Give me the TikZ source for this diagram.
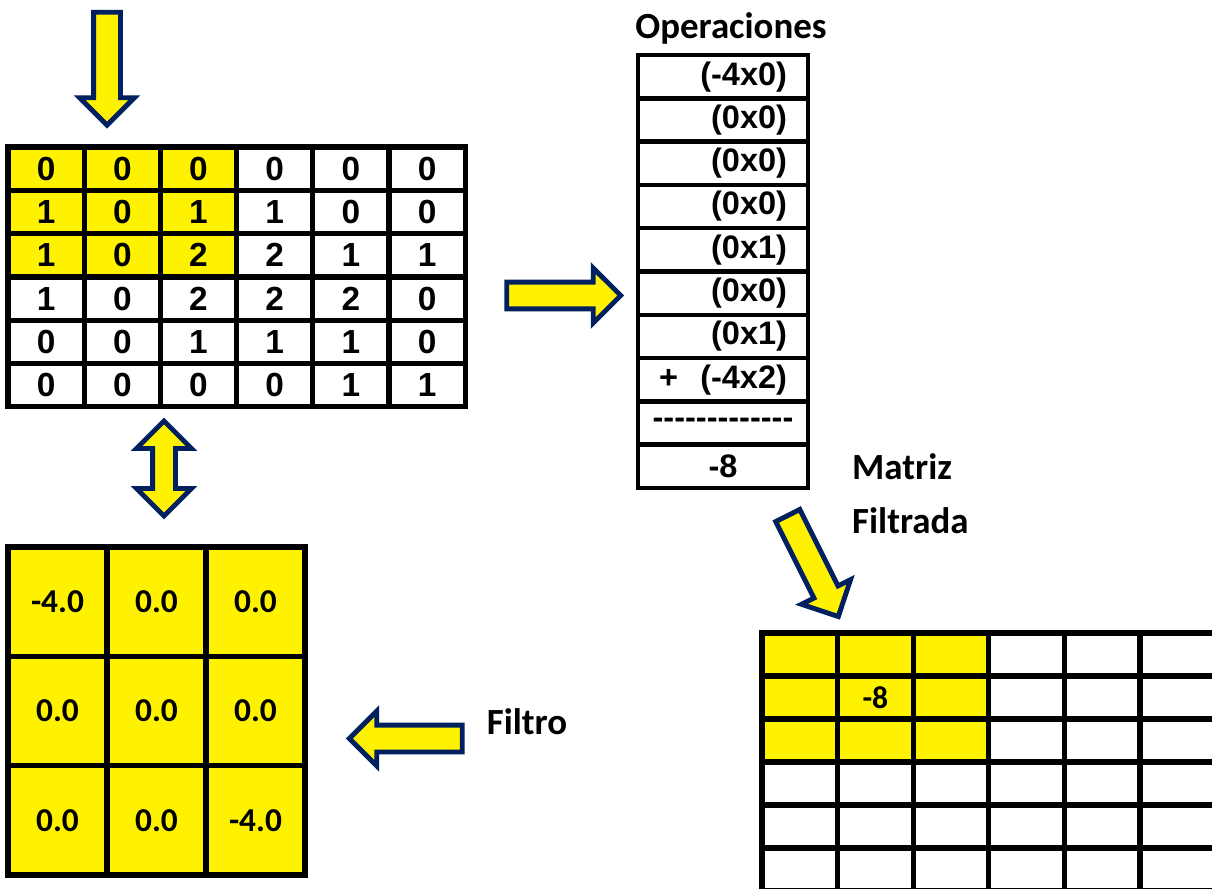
\documentclass[tikz,border=0pt]{standalone}
\usepackage{fontspec}
\setmainfont{Liberation Sans}
\newfontfamily\calibri{Carlito}
\usetikzlibrary{shapes.arrows}
\definecolor{navy}{RGB}{0,32,96}

\begin{document}
\begin{tikzpicture}[x=0.02cm, y=-0.02cm,
grid-line/.style={draw=black, line width=3pt},
cell/.style={rectangle, grid-line, inner sep=0pt, font=\fontsize{19}{22}\selectfont\bfseries,
    minimum width=1.524cm, minimum height=0.866cm},
cell-0/.style={cell, fill=white},
cell-1/.style={cell, fill=yellow},
op-cell/.style={rectangle, draw=black, line width=2.6pt, fill=white, inner sep=0pt,
    minimum width=3.4cm, minimum height=0.866cm, text width=2.56cm, align=right,
    font=\fontsize{18.5}{22}\selectfont\bfseries},
filter-cell/.style={rectangle, grid-line, fill=yellow, minimum width=1.98cm,
    minimum height=2.186cm, font=\calibri\fontsize{19}{22}\selectfont\bfseries},
out-cell-0/.style={cell, minimum width=1.512cm, minimum height=0.86cm, fill=white,
    font=\calibri\fontsize{18}{22}\selectfont\bfseries},
out-cell-1/.style={out-cell-0, fill=yellow},
label/.style={font=\calibri\fontsize{21}{25}\selectfont\bfseries},
block-arrow/.style={single arrow, draw=navy, fill=yellow, line width=2.8pt,
    inner xsep=0pt, inner ysep=0.22cm, single arrow head extend=0.28cm,
    minimum width=1.0cm, minimum height=2.26cm},
block-arrow-both/.style={double arrow, draw=navy, fill=yellow, line width=2.8pt,
    inner xsep=0pt, inner ysep=0.18cm, double arrow head extend=0.32cm,
    minimum width=1.0cm, minimum height=1.9cm}
]
\useasboundingbox (0,0) rectangle (1212,888);

% input matrix
\foreach \row [count=\r from 0] in {{0,0,0,0,0,0},{1,0,1,1,0,0},{1,0,2,2,1,1},
    {1,0,2,2,2,0},{0,0,1,1,1,0},{0,0,0,0,1,1}} {
  \foreach \v [count=\c from 0] in \row {
    \pgfmathtruncatemacro\hi{(\r<3)&&(\c<3)}
    \node [cell-\hi] (in-\r-\c) at ({8+76.2*(\c+0.5)}, {147+43.3*(\r+0.5)}) {\v};
  }
}

% filter
\foreach \row [count=\r from 0] in {{-4.0,0.0,0.0},{0.0,0.0,0.0},{0.0,0.0,-4.0}} {
  \foreach \v [count=\c from 0] in \row {
    \node [filter-cell] (f-\r-\c) at ({8+99*(\c+0.5)}, {547+109.3*(\r+0.5)}) {\v};
  }
}

% operations
\node [label] (op-title) at (731,28) {Operaciones};
\foreach \t [count=\k from 0] in {(-4x0),(0x0),(0x0),(0x0),(0x1),(0x0),(0x1)} {
  \node [op-cell] (op-\k) at (723, {55+43.3*(\k+0.5)}) {\t};
}
\node [op-cell] (op-7) at (723, {55+43.3*7.5}) {+\hspace{\fill}(-4x2)};
\node [op-cell, text width=3cm, align=center] (op-8) at (723, {55+43.3*8.5})
    {-{}-{}-{}-{}-{}-{}-{}-{}-{}-{}-{}-{}-};
\node [op-cell, text width=3cm, align=center] (op-9) at (723, {55+43.3*9.5}) {-8};

% filtered matrix
\begin{scope}
\clip (0,0) rectangle (1212,888);
\foreach \r in {0,...,5} {
  \foreach \c in {0,...,5} {
    \pgfmathtruncatemacro\hi{(\r<3)&&(\c<3)}
    \node [out-cell-\hi] (out-\r-\c) at ({762+75.6*(\c+0.5)}, {633+43*(\r+0.5)}) {};
  }
}
\end{scope}
\node [font=\calibri\fontsize{18}{22}\selectfont\bfseries] at (out-1-1) {-8};

\node [label, anchor=west] (lbl-matriz) at (846,467) {Matriz};
\node [label, anchor=west] (lbl-filtrada) at (846,521) {Filtrada};
\node [label] (lbl-filtro) at (527,722) {Filtro};

% arrows
\node [block-arrow, rotate=-90] (arr-in) at (107,62) {};
\node [block-arrow, minimum height=2.28cm] (arr-ops) at (557,295.5) {};
\node [block-arrow-both, rotate=90] (arr-both) at (164,468.5) {};
\node [block-arrow, rotate=180, minimum width=0.96cm] (arr-filtro) at (412.5,738.5) {};
\node [block-arrow, rotate=-63.4, minimum width=0.96cm] (arr-out) at (810,560) {};

\end{tikzpicture}
\end{document}
